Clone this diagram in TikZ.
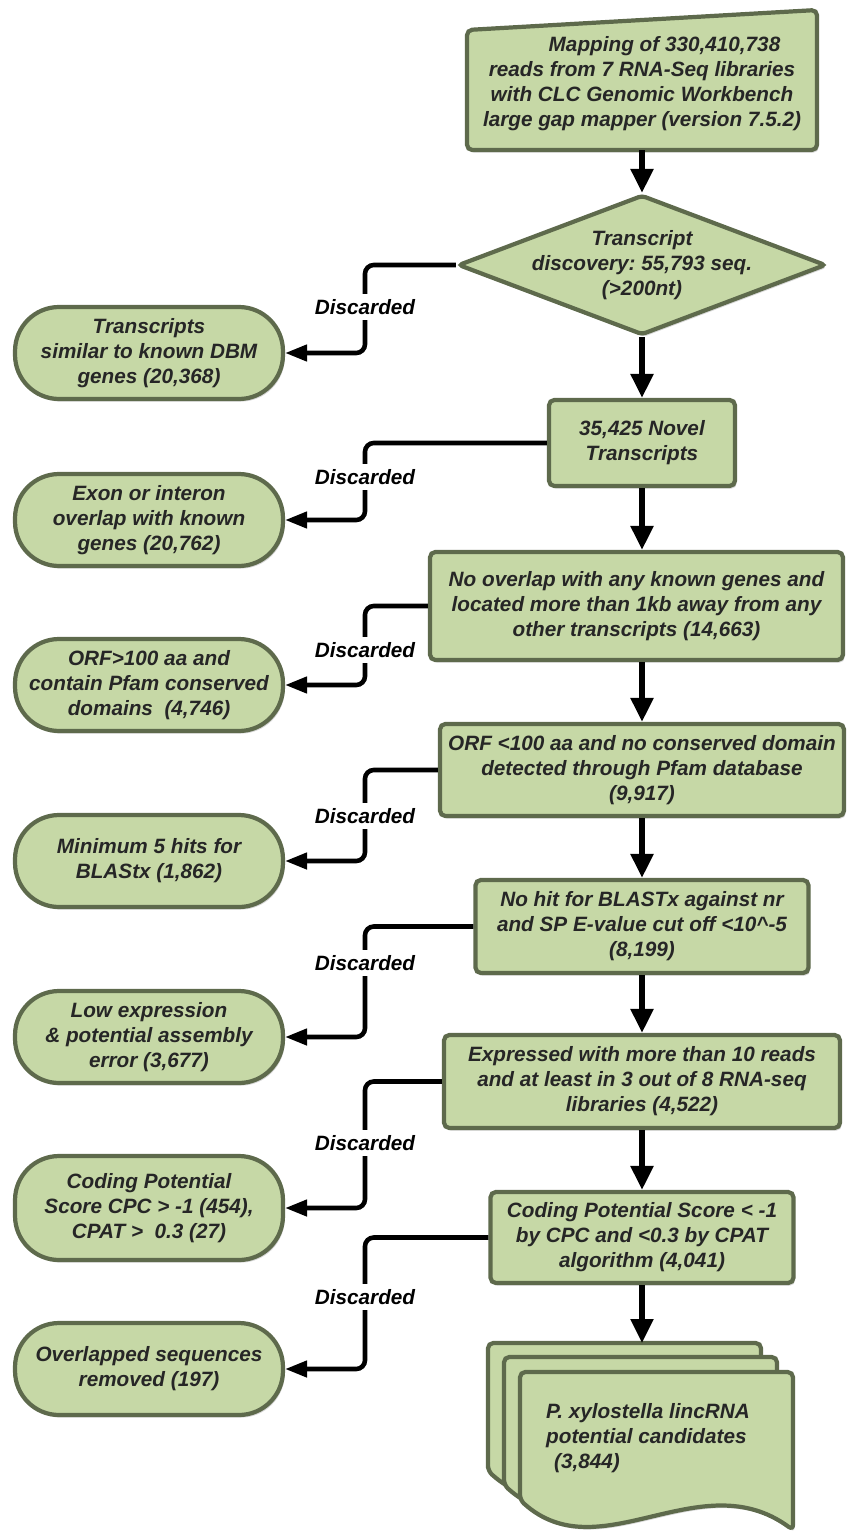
\documentclass[tikz,border=0pt]{standalone}
\usepackage{fontspec}
\setmainfont{Liberation Sans}
\usetikzlibrary{shapes.geometric,shadows,arrows.meta}
\definecolor{boxfill}{HTML}{C6D8A6}
\definecolor{boxedge}{HTML}{5E6A4C}
\definecolor{boxtext}{HTML}{262626}
\frenchspacing

\begin{document}
\begin{tikzpicture}[x=0.02cm,y=-0.02cm,
    every node/.style={font=\bfseries\itshape\fontsize{11.8}{14.2}\selectfont},
    boxshadow/.style={drop shadow={opacity=0.3,shadow xshift=1pt,shadow yshift=-1.5pt}},
    procbox/.style={draw=boxedge,fill=boxfill,line width=2.4pt,rounded corners=3pt,align=center,text=boxtext,inner sep=2pt,boxshadow},
    termbox/.style={procbox,rounded corners=0.88cm,minimum width=5.36cm,minimum height=1.84cm},
    decision/.style={diamond,draw=boxedge,fill=boxfill,line width=2.4pt,rounded corners=2pt,boxshadow,minimum width=7.36cm,minimum height=2.8cm,inner sep=0pt},
    sheet/.style={draw=boxedge,fill=boxfill,line width=2.4pt,rounded corners=3pt,boxshadow},
    flow/.style={line width=3pt,-{Triangle[width=0.44cm,length=0.48cm]}},
    discard/.style={line width=2.6pt,rounded corners=5pt,-{Triangle[width=0.32cm,length=0.44cm]}},
    droplabel/.style={fill=white,inner sep=3pt,text=black}]
    \useasboundingbox (0,0) rectangle (846,1531);

    \filldraw[sheet] (467,150) -- (467,30) -- (817,10) -- (817,150) -- cycle;
    \node[text=boxtext,align=center,minimum width=7cm,minimum height=2.64cm] (map) at (642,84)
        {\hspace*{0.9cm}Mapping of 330,410,738\\reads from 7 RNA-Seq libraries\\with CLC Genomic Workbench\\large gap mapper (version 7.5.2)};
    \node[decision] (disc) at (642,265) {};
    \node[text=boxtext,align=center] (disctxt) at (disc) {Transcript\\discovery: 55,793 seq.\\(>200nt)};
    \node[procbox,minimum width=3.72cm,minimum height=1.72cm] (novel) at (642,443) {35,425 Novel\\Transcripts};
    \node[procbox,minimum width=8.26cm,minimum height=2.16cm] (nolap) at (636.5,606)
        {No overlap with any known genes and\\located more than 1kb away from any\\other transcripts (14,663)};
    \node[procbox,minimum width=8.08cm,minimum height=1.84cm] (orf) at (642,770)
        {ORF <100 aa and no conserved domain\\detected through Pfam database\\(9,917)};
    \node[procbox,minimum width=6.66cm,minimum height=1.86cm] (nohit) at (642,926.5)
        {No hit for BLASTx against nr\\and SP E-value cut off <10\textasciicircum-5\\(8,199)};
    \node[procbox,minimum width=7.92cm,minimum height=1.86cm] (expr) at (642,1081.5)
        {Expressed with more than 10 reads\\and at least in 3 out of 8 RNA-seq\\libraries (4,522)};
    \node[procbox,minimum width=6.06cm,minimum height=1.82cm] (coding) at (642,1237.5)
        {Coding Potential Score < -1\\by CPC and <0.3 by CPAT\\algorithm (4,041)};

    \foreach \dx/\dy in {0/0,16/14,32/29}
        \filldraw[sheet] ({488+\dx},{1471+\dy}) -- ({488+\dx},{1343+\dy}) -- ({761+\dx},{1343+\dy}) -- ({761+\dx},{1501+\dy})
            .. controls ({668+\dx},{1433+\dy}) and ({568+\dx},{1543+\dy}) .. ({488+\dx},{1471+\dy}) -- cycle;
    \node[text=boxtext,align=left,anchor=west] (cand) at (540,1438)
        {P. xylostella lincRNA\\potential candidates\\\hspace*{0.16cm}(3,844)};
    \coordinate (stacktop) at (642,1343);

    \node[termbox] (simdbm) at (149,353) {Transcripts\\similar to known DBM\\genes (20,368)};
    \node[termbox] (exon) at (149,520) {Exon or interon\\overlap with known\\genes (20,762)};
    \node[termbox] (pfam) at (149,685) {ORF>100 aa and\\contain Pfam conserved\\domains\ \ (4,746)};
    \node[termbox] (blast) at (149,861) {Minimum 5 hits for\\BLAStx (1,862)};
    \node[termbox] (lowexp) at (149,1037) {Low expression\\\& potential assembly\\error (3,677)};
    \node[termbox,minimum height=2.08cm] (cpc) at (149,1208) {Coding Potential\\Score CPC > -1 (454),\\CPAT >\ \ 0.3 (27)};
    \node[termbox] (overlap) at (149,1369) {Overlapped sequences\\removed (197)};

    \draw[flow] (map) -- (disc);
    \draw[flow] (disc) -- (novel);
    \draw[flow] (novel) -- (novel |- nolap.north);
    \draw[flow] (orf |- nolap.south) -- (orf);
    \draw[flow] (orf) -- (nohit);
    \draw[flow] (nohit) -- (expr);
    \draw[flow] (expr) -- (coding);
    \draw[flow] (coding) -- (stacktop);

    \coordinate (bus) at (365,0);
    \draw[discard] (disc.west) -- (disc.west -| bus) |- (simdbm.east);
    \draw[discard] (novel.west) -- (novel.west -| bus) |- (exon.east);
    \draw[discard] (nolap.west) -- (nolap.west -| bus) |- (pfam.east);
    \draw[discard] (orf.west) -- (orf.west -| bus) |- (blast.east);
    \draw[discard] (nohit.west) -- (nohit.west -| bus) |- (lowexp.east);
    \draw[discard] (expr.west) -- (expr.west -| bus) |- (cpc.east);
    \draw[discard] (coding.west) -- (coding.west -| bus) |- (overlap.east);
    \node[droplabel] (d1) at (365,307) {Discarded};
    \node[droplabel] (d2) at (365,477) {Discarded};
    \node[droplabel] (d3) at (365,650) {Discarded};
    \node[droplabel] (d4) at (365,816) {Discarded};
    \node[droplabel] (d5) at (365,963) {Discarded};
    \node[droplabel] (d6) at (365,1143) {Discarded};
    \node[droplabel] (d7) at (365,1297) {Discarded};
\end{tikzpicture}
\end{document}
